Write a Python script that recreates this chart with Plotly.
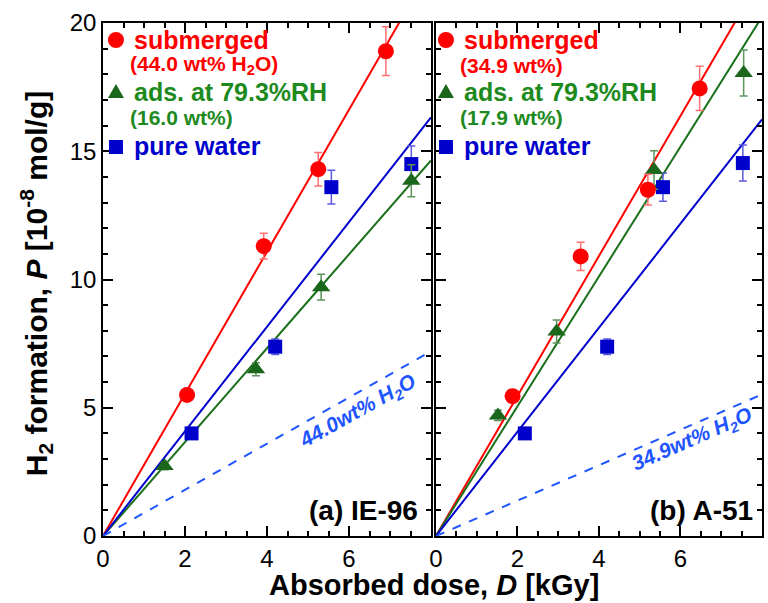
import plotly.graph_objects as go

# ---------------- data ----------------
# panel (a) IE-96
a_sub_x = [2.05, 3.92, 5.25, 6.9]
a_sub_y = [5.5, 11.3, 14.3, 18.9]
a_sub_e = [0.25, 0.5, 0.65, 0.95]
a_ads_x = [1.5, 3.73, 5.32, 7.52]
a_ads_y = [2.73, 6.5, 9.7, 13.85]
a_ads_e = [0.15, 0.25, 0.5, 0.62]
a_pw_x = [2.16, 4.2, 5.57, 7.52]
a_pw_y = [4.0, 7.38, 13.6, 14.5]
a_pw_e = [0.1, 0.3, 0.66, 0.7]
a_slopes = [2.77, 1.83, 2.04, 0.9]   # submerged, ads, pure water, 44.0wt% H2O

# panel (b) A-51
b_sub_x = [1.88, 3.55, 5.2, 6.47]
b_sub_y = [5.45, 10.9, 13.5, 17.45]
b_sub_e = [0.25, 0.55, 0.6, 0.86]
b_ads_x = [1.52, 2.96, 5.35, 7.55]
b_ads_y = [4.7, 7.97, 14.27, 18.05]
b_ads_e = [0.2, 0.45, 0.75, 0.9]
b_pw_x = [2.18, 4.2, 5.57, 7.53]
b_pw_y = [4.0, 7.38, 13.6, 14.54]
b_pw_e = [0.1, 0.3, 0.55, 0.7]
b_slopes = [2.73, 2.53, 2.03, 0.69]

x_ticks = [0, 2, 4, 6, 8]
y_ticks = [0, 5, 10, 15, 20]

RED = "#ff0000"
GREEN_M = "#1a661a"
GREEN_L = "#1a701a"
GREEN_T = "#1e8a1e"
BLUE = "#0000cc"
BLUE_D = "#1f55ff"
FONT = "Liberation Sans, Arial, sans-serif"

fig = go.Figure()

def add_panel(xa, ya, data, slopes):
    (sx, sy, se), (ax_, ay_, ae), (px_, py_, pe) = data
    line_cols = [RED, GREEN_L, BLUE, BLUE_D]
    for k, s in enumerate(slopes):
        fig.add_trace(go.Scatter(
            x=[0, 8], y=[0, s * 8], mode="lines", xaxis=xa, yaxis=ya,
            line=dict(color=line_cols[k], width=2, dash="dash" if k == 3 else "solid"),
            showlegend=False, hoverinfo="skip"))
    specs = [
        (px_, py_, pe, "square", BLUE, "#5a5ae0", 14),
        (ax_, ay_, ae, "triangle-up", GREEN_M, "#5c945c", 16),
        (sx, sy, se, "circle", RED, "#ff7070", 16),
    ]
    for x, y, e, sym, c, ec, sz in specs:
        fig.add_trace(go.Scatter(
            x=x, y=y, mode="markers", xaxis=xa, yaxis=ya,
            marker=dict(symbol=sym, color=c, size=sz, line=dict(width=0)),
            error_y=dict(type="data", array=e, color=ec, thickness=1.5, width=4),
            showlegend=False, hoverinfo="skip"))

add_panel("x", "y", [(a_sub_x, a_sub_y, a_sub_e), (a_ads_x, a_ads_y, a_ads_e),
                     (a_pw_x, a_pw_y, a_pw_e)], a_slopes)
add_panel("x2", "y2", [(b_sub_x, b_sub_y, b_sub_e), (b_ads_x, b_ads_y, b_ads_e),
                       (b_pw_x, b_pw_y, b_pw_e)], b_slopes)

W, H = 768, 603
L, R, T, B = 103, 4, 23, 67
PW, PH = W - L - R, H - T - B

def px(xp):
    return (xp - L) / PW

def py(yp):
    return (H - B - yp) / PH

axis_common = dict(
    range=[0, 8], showline=True, linecolor="black", linewidth=1.5, mirror="allticks",
    ticks="inside", ticklen=10, tickwidth=1.5, tickcolor="black", showgrid=False,
    zeroline=False, tickfont=dict(family=FONT, size=24, color="black"),
    minor=dict(tickmode="linear", tick0=0, dtick=0.5, ticks="inside", ticklen=5,
               tickwidth=1.5, tickcolor="black", showgrid=False),
)
yaxis_common = dict(
    range=[0, 20], showline=True, linecolor="black", linewidth=1.5, mirror="allticks",
    ticks="inside", ticklen=10, tickwidth=1.5, tickcolor="black", showgrid=False,
    zeroline=False, tickfont=dict(family=FONT, size=24, color="black"),
    tickmode="array", tickvals=y_ticks,
    minor=dict(tickmode="linear", tick0=0, dtick=1, ticks="inside", ticklen=5,
               tickwidth=1.5, tickcolor="black", showgrid=False),
)

da = [0, (432 - L) / PW]
db = [(437 - L) / PW, 1]

fig.update_layout(
    width=W, height=H, margin=dict(l=L, r=R, t=T, b=B),
    paper_bgcolor="white", plot_bgcolor="white",
    font=dict(family=FONT, color="black"),
    xaxis=dict(domain=da, anchor="y", tickmode="array", tickvals=x_ticks,
               ticktext=[str(v) if v != 8 else "" for v in x_ticks], **axis_common),
    xaxis2=dict(domain=db, anchor="y2", tickmode="array", tickvals=x_ticks,
                ticktext=[str(v) for v in x_ticks], **axis_common),
    yaxis=dict(domain=[0, 1], anchor="x", **yaxis_common),
    yaxis2=dict(domain=[0, 1], anchor="x2", showticklabels=False, **yaxis_common),
)

ann = []
# axis titles
ann.append(dict(xref="paper", yref="paper", x=px(36), y=py(284), textangle=-90,
                text="<b>H<sub>2</sub> formation, <i>P</i> [10<sup>-8</sup> mol/g]</b>",
                showarrow=False, font=dict(size=30, color="black", family=FONT),
                xanchor="center", yanchor="middle"))
ann.append(dict(xref="paper", yref="paper", x=px(435), y=py(585),
                text="<b>Absorbed dose, <i>D</i> [kGy]</b>",
                showarrow=False, font=dict(size=29, color="black", family=FONT),
                xanchor="center", yanchor="middle"))

# panel labels
ann.append(dict(xref="paper", yref="paper", x=px(421), y=py(510), text="<b>(a) IE-96</b>",
                showarrow=False, font=dict(size=28, color="black", family=FONT),
                xanchor="right", yanchor="middle"))
ann.append(dict(xref="paper", yref="paper", x=px(757), y=py(510), text="<b>(b) A-51</b>",
                showarrow=False, font=dict(size=28, color="black", family=FONT),
                xanchor="right", yanchor="middle"))

# dashed-line labels (sit just below the dashed lines)
ann.append(dict(xref="x", yref="y", x=6.2, y=4.85, textangle=-29,
                text="<b><i>44.0wt% H<sub>2</sub>O</i></b>", showarrow=False,
                font=dict(size=21, color=BLUE_D, family=FONT)))
ann.append(dict(xref="x2", yref="y2", x=6.28, y=3.75, textangle=-23.5,
                text="<b><i>34.9wt% H<sub>2</sub>O</i></b>", showarrow=False,
                font=dict(size=21, color=BLUE_D, family=FONT)))

# legends
legend_rows = [
    (["submerged", "submerged"], 40, RED, 25, 0),
    (["(44.0 wt% H<sub>2</sub>O)", "(34.9 wt%)"], 65, RED, 21, -4),
    (["ads. at 79.3%RH", "ads. at 79.3%RH"], 92, GREEN_T, 25, 0),
    (["(16.0 wt%)", "(17.9 wt%)"], 117, GREEN_T, 21, -4),
    (["pure water", "pure water"], 146, BLUE, 25, 0),
]
for i, x0 in enumerate([132, 463]):
    for texts, yp, col, sz, dx in legend_rows:
        ann.append(dict(xref="paper", yref="paper", x=px(x0 + dx), y=py(yp),
                        text="<b>" + texts[i] + "</b>", showarrow=False,
                        font=dict(size=sz, color=col, family=FONT),
                        xanchor="left", yanchor="middle"))
fig.update_layout(annotations=ann)

# legend symbols
shapes = []
for xc in [116, 447]:
    shapes.append(dict(type="circle", xref="paper", yref="paper", xsizemode="pixel",
                       ysizemode="pixel", xanchor=px(xc), yanchor=py(40),
                       x0=-8, x1=8, y0=-8, y1=8, fillcolor=RED, line=dict(width=0)))
    shapes.append(dict(type="path", xref="paper", yref="paper", xsizemode="pixel",
                       ysizemode="pixel", xanchor=px(xc), yanchor=py(92),
                       path="M-8,-6 L8,-6 L0,8 Z", fillcolor=GREEN_M, line=dict(width=0)))
    shapes.append(dict(type="rect", xref="paper", yref="paper", xsizemode="pixel",
                       ysizemode="pixel", xanchor=px(xc), yanchor=py(147),
                       x0=-7, x1=7, y0=-7, y1=7, fillcolor=BLUE, line=dict(width=0)))
fig.update_layout(shapes=shapes)

fig.write_html("out.html")
